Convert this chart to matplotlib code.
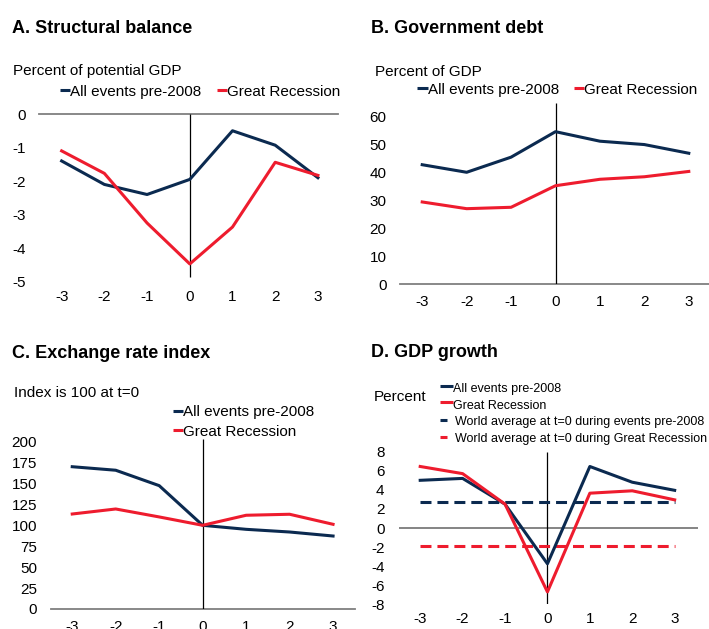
import matplotlib
matplotlib.use("Agg")
import matplotlib.pyplot as plt
from matplotlib.lines import Line2D

plt.rcParams["font.family"] = ["Liberation Sans", "DejaVu Sans"]
plt.rcParams["lines.scale_dashes"] = False

# ---- data -------------------------------------------------------------
years = [-3, -2, -1, 0, 1, 2, 3]
year_labels = ["-3", "-2", "-1", "0", "1", "2", "3"]

balance_pre2008 = [-1.4, -2.1, -2.4, -1.95, -0.5, -0.93, -1.9]
balance_gr = [-1.1, -1.77, -3.25, -4.47, -3.37, -1.44, -1.83]

debt_pre2008 = [42.6, 39.9, 45.3, 54.4, 51.0, 49.8, 46.7]
debt_gr = [29.3, 26.9, 27.4, 35.1, 37.4, 38.3, 40.2]

fx_pre2008 = [170, 165.8, 147.4, 100, 95.2, 92, 87.2]
fx_gr = [113.5, 119.5, 110, 100, 112, 113.2, 101.2]

growth_pre2008 = [5.0, 5.2, 2.5, -3.75, 6.45, 4.8, 3.95]
growth_gr = [6.45, 5.7, 2.5, -6.7, 3.65, 3.9, 2.95]
world_avg_pre2008 = 2.7
world_avg_gr = -1.9

balance_ticks = [0, -1, -2, -3, -4, -5]
debt_ticks = [0, 10, 20, 30, 40, 50, 60]
fx_ticks = [0, 25, 50, 75, 100, 125, 150, 175, 200]
growth_ticks = [-8, -6, -4, -2, 0, 2, 4, 6, 8]

NAVY = "#0b2a50"
RED = "#ee1c2e"
GREY = "#7f7f7f"
LW = 2.2
FS = 11

W, H = 709, 629
fig = plt.figure(figsize=(W / 100, H / 100), dpi=100)


def axes_px(left, top, right, bottom):
    return fig.add_axes([left / W, 1 - bottom / H, (right - left) / W, (bottom - top) / H])


def text_px(x, y, s, **kw):
    fig.text(x / W, 1 - y / H, s, ha="left", va="baseline", **kw)


def key_px(x0, x1, y, color, dashed=False):
    ln = Line2D([x0 / W, x1 / W], [1 - y / H, 1 - y / H], transform=fig.transFigure,
                color=color, lw=LW, solid_capstyle="butt")
    fig.add_artist(ln)


def style(ax, xlim, ylim, yticks, xpad, ypad=9.7):
    ax.set_xlim(*xlim)
    ax.set_ylim(*ylim)
    ax.set_xticks(years)
    ax.set_xticklabels(year_labels)
    ax.set_yticks(yticks)
    ax.set_yticklabels([str(t) for t in yticks])
    for s in ax.spines.values():
        s.set_visible(False)
    ax.tick_params(axis="x", length=0, pad=xpad, labelsize=FS)
    ax.tick_params(axis="y", length=0, pad=ypad, labelsize=FS)
    ax.patch.set_visible(False)


# ---- A. Structural balance -------------------------------------------
axA = axes_px(39, 114, 338, 281.7)
style(axA, (-3.53, 3.47), (-5, 0), balance_ticks, xpad=6.3)
axA.axhline(0, color=GREY, lw=1.3, clip_on=False)
axA.vlines(0, -4.85, 0, color="black", lw=0.9)
axA.plot(years, balance_pre2008, color=NAVY, lw=LW, clip_on=False)
axA.plot(years, balance_gr, color=RED, lw=LW, clip_on=False)
text_px(11.7, 33.3, "A. Structural balance", fontsize=13, fontweight="bold")
text_px(13.3, 75.5, "Percent of potential GDP", fontsize=FS)
key_px(60, 70, 90, NAVY)
text_px(70, 96, "All events pre-2008", fontsize=FS)
key_px(217, 227, 90, RED)
text_px(227, 96, "Great Recession", fontsize=FS)

# ---- B. Government debt -----------------------------------------------
axB = axes_px(400, 102, 711, 284)
style(axB, (-3.5, 3.5), (0, 65), debt_ticks, xpad=7.8)
axB.axhline(0, color=GREY, lw=1.3, clip_on=False)
axB.vlines(0, 0, 64.7, color="black", lw=0.9)
axB.plot(years, debt_pre2008, color=NAVY, lw=LW)
axB.plot(years, debt_gr, color=RED, lw=LW)
text_px(370.7, 33, "B. Government debt", fontsize=13, fontweight="bold")
text_px(374.7, 76, "Percent of GDP", fontsize=FS)
key_px(417, 428, 88, NAVY)
text_px(428, 94, "All events pre-2008", fontsize=FS)
key_px(574, 584, 88, RED)
text_px(584, 94, "Great Recession", fontsize=FS)

# ---- C. Exchange rate index --------------------------------------------
axC = axes_px(50.5, 439.1, 354.8, 609)
style(axC, (-3.5, 3.5), (0, 203), fx_ticks, xpad=8.2)
axC.axhline(0, color=GREY, lw=1.3, clip_on=False)
axC.vlines(0, 0, 203, color="black", lw=0.9)
axC.plot(years, fx_pre2008, color=NAVY, lw=LW)
axC.plot(years, fx_gr, color=RED, lw=LW)
text_px(11.7, 357.5, "C. Exchange rate index", fontsize=13, fontweight="bold")
text_px(14, 397, "Index is 100 at t=0", fontsize=FS)
key_px(172.7, 183, 410.7, NAVY)
text_px(183, 415.7, "All events pre-2008", fontsize=FS)
key_px(172.7, 183, 430, RED)
text_px(183, 435.7, "Great Recession", fontsize=FS)

# ---- D. GDP growth ------------------------------------------------------
axD = axes_px(399, 451.7, 698, 604.3)
style(axD, (-3.5, 3.55), (-8, 8), growth_ticks, xpad=5.6, ypad=10.4)
axD.axhline(0, color="#6f6f6f", lw=1.2)
axD.vlines(0, -8, 8, color="black", lw=0.9)
axD.hlines(world_avg_pre2008, years[0], years[-1], color=NAVY, lw=LW,
           linestyles=(0, (7.9, 4.3)))
axD.hlines(world_avg_gr, years[0], years[-1], color=RED, lw=LW,
           linestyles=(0, (7.9, 4.3)))
axD.plot(years, growth_pre2008, color=NAVY, lw=LW)
axD.plot(years, growth_gr, color=RED, lw=LW)
text_px(370.7, 357, "D. GDP growth", fontsize=13, fontweight="bold")
text_px(374, 401, "Percent", fontsize=FS)
key_px(440, 452.5, 385.7, NAVY)
text_px(453, 392, "All events pre-2008", fontsize=9)
key_px(440, 452.5, 402.3, RED)
text_px(453, 408.7, "Great Recession", fontsize=9)
key_px(440, 447.3, 420, NAVY)
text_px(455, 425.5, "World average at t=0 during events pre-2008", fontsize=9)
key_px(440, 447.3, 436.7, RED)
text_px(455, 442, "World average at t=0 during Great Recession", fontsize=9)

fig.savefig("out.png", dpi=100)
